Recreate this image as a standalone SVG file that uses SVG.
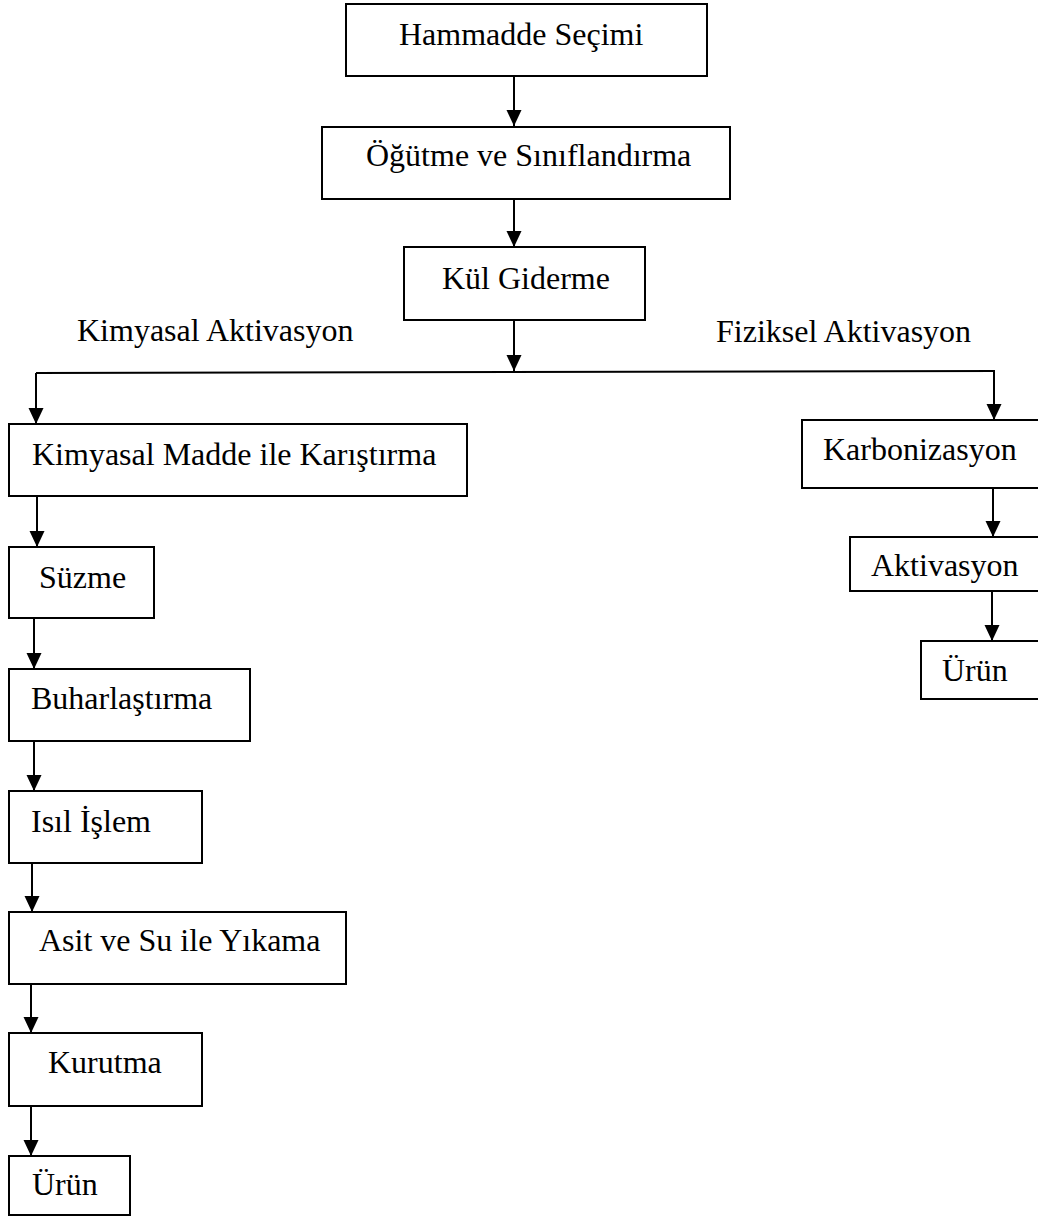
<svg xmlns="http://www.w3.org/2000/svg" width="1038" height="1216" viewBox="0 0 1038 1216">
<style>
.box{fill:#fff;stroke:#000;stroke-width:2}
.lbl{font-family:"Liberation Serif","Times New Roman",serif;font-size:32px;fill:#000}
.con{fill:none;stroke:#000;stroke-width:2}
</style>
<defs>
<marker id="arr" markerUnits="userSpaceOnUse" markerWidth="16" markerHeight="16" refX="16" refY="8" orient="auto">
<path d="M0,0.5 L16,8 L0,15.5 z" fill="#000"/>
</marker>
</defs>
<rect width="1038" height="1216" fill="#fff"/>
<g id="connectors">
<line class="con" x1="514" y1="76" x2="514" y2="126" marker-end="url(#arr)"/>
<line class="con" x1="514" y1="199" x2="514" y2="247" marker-end="url(#arr)"/>
<line class="con" x1="514" y1="320" x2="514" y2="371" marker-end="url(#arr)"/>
<polyline class="con" points="36,373 995,371"/>
<line class="con" x1="36" y1="373" x2="36" y2="424" marker-end="url(#arr)"/>
<line class="con" x1="994" y1="371" x2="994" y2="420" marker-end="url(#arr)"/>
<line class="con" x1="993" y1="488" x2="993" y2="537" marker-end="url(#arr)"/>
<line class="con" x1="992" y1="591" x2="992" y2="641" marker-end="url(#arr)"/>
<line class="con" x1="37" y1="496" x2="37" y2="547" marker-end="url(#arr)"/>
<line class="con" x1="34" y1="618" x2="34" y2="669" marker-end="url(#arr)"/>
<line class="con" x1="34" y1="741" x2="34" y2="791" marker-end="url(#arr)"/>
<line class="con" x1="32" y1="863" x2="32" y2="912" marker-end="url(#arr)"/>
<line class="con" x1="31" y1="984" x2="31" y2="1033" marker-end="url(#arr)"/>
<line class="con" x1="31" y1="1106" x2="31" y2="1156" marker-end="url(#arr)"/>
</g>
<g id="branch-labels">
<text class="lbl" x="77" y="341">Kimyasal Aktivasyon</text>
<text class="lbl" x="716" y="342">Fiziksel Aktivasyon</text>
</g>
<g id="n-hammadde"><rect class="box" x="346" y="4" width="361" height="72"/><text class="lbl" x="399" y="45">Hammadde Seçimi</text></g>
<g id="n-ogutme"><rect class="box" x="322" y="127" width="408" height="72"/><text class="lbl" x="366" y="166">Öğütme ve Sınıflandırma</text></g>
<g id="n-kul"><rect class="box" x="404" y="247" width="241" height="73"/><text class="lbl" x="442" y="289">Kül Giderme</text></g>
<g id="n-kimyasal"><rect class="box" x="9" y="424" width="458" height="72"/><text class="lbl" x="32" y="465">Kimyasal Madde ile Karıştırma</text></g>
<g id="n-suzme"><rect class="box" x="9" y="547" width="145" height="71"/><text class="lbl" x="39" y="588">Süzme</text></g>
<g id="n-buhar"><rect class="box" x="9" y="669" width="241" height="72"/><text class="lbl" x="31" y="709">Buharlaştırma</text></g>
<g id="n-isil"><rect class="box" x="9" y="791" width="193" height="72"/><text class="lbl" x="31" y="832">Isıl İşlem</text></g>
<g id="n-asit"><rect class="box" x="9" y="912" width="337" height="72"/><text class="lbl" x="39" y="951">Asit ve Su ile Yıkama</text></g>
<g id="n-kurutma"><rect class="box" x="9" y="1033" width="193" height="73"/><text class="lbl" x="48" y="1073">Kurutma</text></g>
<g id="n-urun-left"><rect class="box" x="9" y="1156" width="121" height="59"/><text class="lbl" x="32" y="1195">Ürün</text></g>
<g id="n-karbon"><rect class="box" x="802" y="420" width="243" height="68"/><text class="lbl" x="823" y="460">Karbonizasyon</text></g>
<g id="n-aktiv"><rect class="box" x="850" y="537" width="195" height="54"/><text class="lbl" x="871" y="576">Aktivasyon</text></g>
<g id="n-urun-right"><rect class="box" x="921" y="641" width="124" height="58"/><text class="lbl" x="942" y="681">Ürün</text></g>
</svg>
